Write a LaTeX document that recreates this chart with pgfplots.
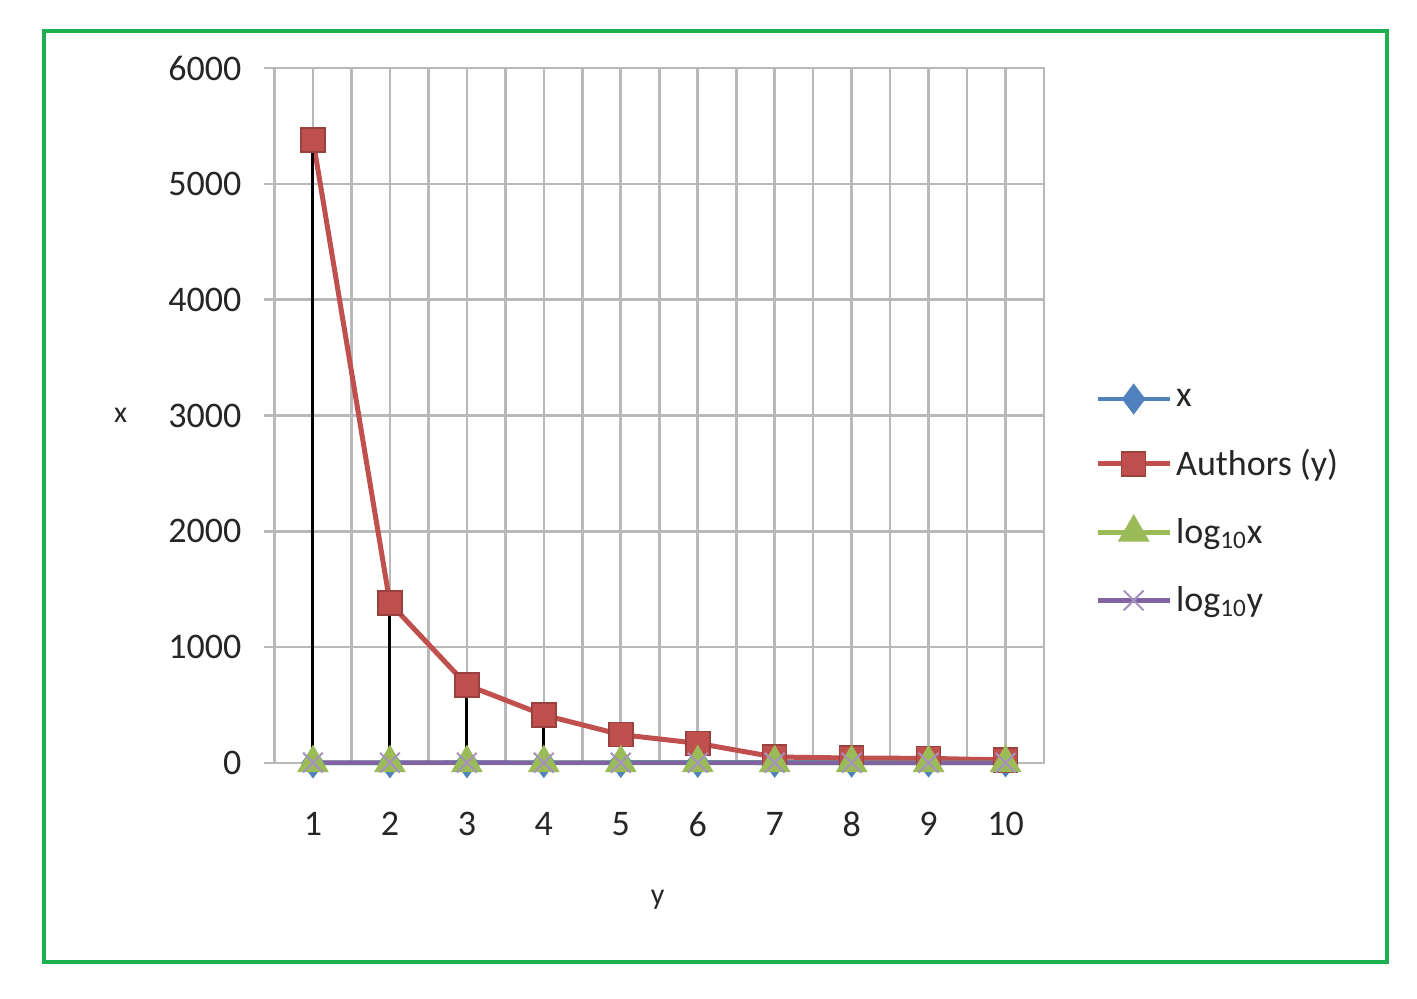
\documentclass[border=0pt]{standalone}
\usepackage{pgfplots}
\pgfplotsset{compat=1.18}
\usepackage{fontspec}
\setmainfont{Carlito}
\definecolor{gridgray}{RGB}{185,185,185}
\definecolor{xlred}{RGB}{192,80,77}
\definecolor{xlblue}{RGB}{79,129,189}
\definecolor{xlgreen}{RGB}{155,187,89}
\definecolor{xlpurple}{RGB}{128,100,162}
\definecolor{framegreen}{RGB}{30,176,80}
\begin{document}
\begin{tikzpicture}
\useasboundingbox[fill=white] (-137.25pt,-117.5pt) rectangle (571.25pt,381.5pt);
\begin{axis}[
  scale only axis,
  width=384.75pt, height=347.5pt,
  xmin=0.5, xmax=10.5, ymin=0, ymax=6000,
  xtick={1,...,10},
  minor xtick={0.5,1.5,...,10.5},
  ytick={0,1000,...,6000},
  ytick pos=left,
  grid=both,
  major grid style={gridgray, line width=1.3pt},
  minor grid style={gridgray, line width=1.3pt},
  axis line style={gridgray, line width=1.3pt},
  tick align=outside,
  major tick length=5pt,
  minor tick length=0pt,
  xtick style={draw=none},
  ytick style={gridgray, line width=1.3pt},
  /pgf/number format/assume math mode=true,
  /pgf/number format/1000 sep={},
  ticklabel style={font=\fontsize{18}{20}\selectfont, text=black!85},
  xticklabel style={yshift=-16pt},
  yticklabel style={xshift=-8pt},
  xlabel={y}, ylabel={x},
  every axis x label/.style={at={(axis description cs:0.498,-0.197)}, anchor=center, font=\fontsize{15}{17}\selectfont, text=black!85},
  every axis y label/.style={at={(axis description cs:-0.200,0.5)}, anchor=center, font=\fontsize{15}{17}\selectfont, text=black!85},
  legend style={at={(axis description cs:1.066,0.376)}, anchor=west, draw=none, fill=none,
    font=\fontsize{18}{20}\selectfont, row sep=16pt, inner sep=0pt, text=black!85,
    /tikz/every even column/.append style={column sep=0pt}},
  legend cell align=left,
  legend image code/.code={
    \draw[mark repeat=2,mark phase=2,#1] plot coordinates {(0pt,0pt) (18pt,0pt) (36pt,0pt)};
  },
  clip=false,
]
\addplot[xlblue, line width=2.2pt, mark=diamond*, mark size=6pt, mark options={solid, fill=xlblue, draw=xlblue}]
  coordinates {(1,1) (2,2) (3,3) (4,4) (5,5) (6,6) (7,7) (8,8) (9,9) (10,10)};
\addlegendentry{x}
\addplot[xlred, line width=2.5pt, mark=square*, mark size=6pt, mark options={solid, fill=xlred, draw=xlred!80!black, line width=0.8pt}]
  coordinates {(1,5380) (2,1380) (3,673) (4,414) (5,245) (6,170) (7,52) (8,43) (9,40) (10,26)};
\addlegendentry{Authors (y)}
\addplot[xlgreen, line width=2.2pt, mark=triangle*, mark size=7pt, mark options={solid, fill=xlgreen, draw=xlgreen}]
  coordinates {(1,0) (2,0.301) (3,0.477) (4,0.602) (5,0.699) (6,0.778) (7,0.845) (8,0.903) (9,0.954) (10,1)};
\addlegendentry{log\textsubscript{10}x}
\addplot[xlpurple, line width=2.2pt, mark=x, mark size=7pt, mark options={solid, draw=xlpurple!70!white, line width=1pt}]
  coordinates {(1,3.731) (2,3.140) (3,2.828) (4,2.617) (5,2.389) (6,2.230) (7,1.716) (8,1.633) (9,1.602) (10,1.415)};
\addlegendentry{log\textsubscript{10}y}
\addplot[black, line width=1.5pt, ycomb, forget plot]
  coordinates {(1,5380) (2,1380) (3,673) (4,414) (5,245) (6,170) (7,52) (8,43) (9,40) (10,26)};
\end{axis}
\draw[framegreen, line width=2pt] (-115.25pt,-99.5pt) rectangle (556.25pt,366pt);
\end{tikzpicture}
\end{document}
